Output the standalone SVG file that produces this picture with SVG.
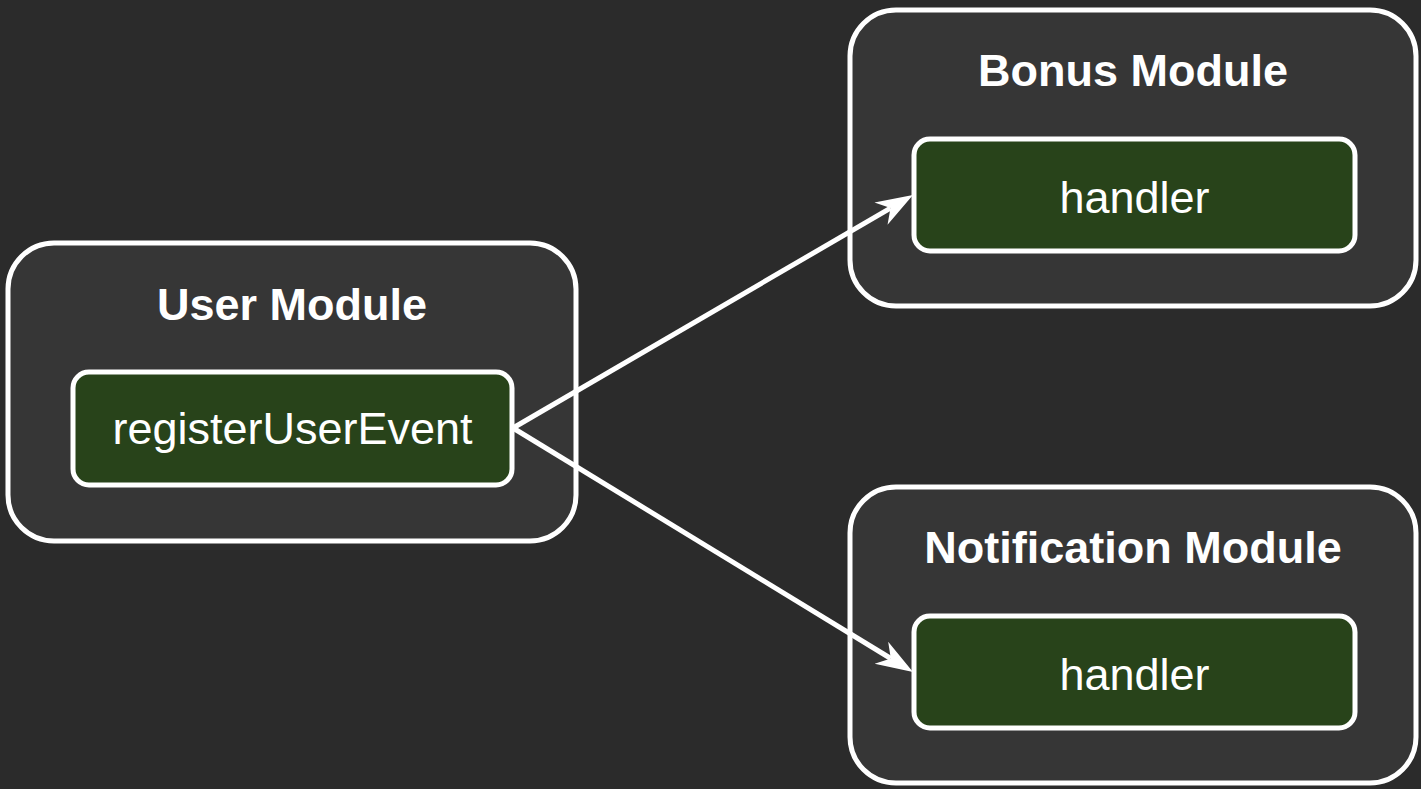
<svg xmlns="http://www.w3.org/2000/svg" width="1421" height="789" viewBox="0 0 1421 789">
  <style>
    .module { fill: #363636; stroke: #ffffff; stroke-width: 5; }
    .fn { fill: #28431a; stroke: #ffffff; stroke-width: 5; }
    .title { font-family: "Liberation Sans", Arial, sans-serif; font-size: 45px; font-weight: bold; fill: #ffffff; text-anchor: middle; }
    .label { font-family: "Liberation Sans", Arial, sans-serif; font-size: 45px; fill: #ffffff; text-anchor: middle; }
    .edge { fill: none; stroke: #ffffff; stroke-width: 5; }
  </style>
  <defs>
    <marker id="arrow" markerUnits="userSpaceOnUse" viewBox="-40 -15 40 30" markerWidth="40" markerHeight="30" refX="-26" refY="0" orient="auto">
      <path d="M0,0 L-37,-13 L-26,0 L-37,13 Z" fill="#ffffff"/>
    </marker>
  </defs>

  <rect width="1421" height="789" fill="#2b2b2b"/>

  <g id="user-module">
    <rect class="module" x="8" y="243" width="568" height="298" rx="46" ry="46"/>
    <text class="title" x="292" y="320">User Module</text>
    <rect class="fn" x="73" y="372" width="439" height="113" rx="16" ry="16"/>
    <text class="label" x="292.5" y="444">registerUserEvent</text>
  </g>

  <g id="bonus-module">
    <rect class="module" x="850" y="10" width="566" height="296" rx="46" ry="46"/>
    <text class="title" x="1133" y="86">Bonus Module</text>
    <rect class="fn" x="914" y="139" width="441" height="112" rx="16" ry="16"/>
    <text class="label" x="1134.5" y="213">handler</text>
  </g>

  <g id="notification-module">
    <rect class="module" x="850" y="487" width="566" height="296" rx="46" ry="46"/>
    <text class="title" x="1133" y="563">Notification Module</text>
    <rect class="fn" x="914" y="616" width="441" height="112" rx="16" ry="16"/>
    <text class="label" x="1134.5" y="690">handler</text>
  </g>

  <g id="connectors">
    <line class="edge" x1="513" y1="428" x2="890.5" y2="208.1" marker-end="url(#arrow)"/>
    <line class="edge" x1="513" y1="428" x2="890.8" y2="658.5" marker-end="url(#arrow)"/>
  </g>
</svg>
